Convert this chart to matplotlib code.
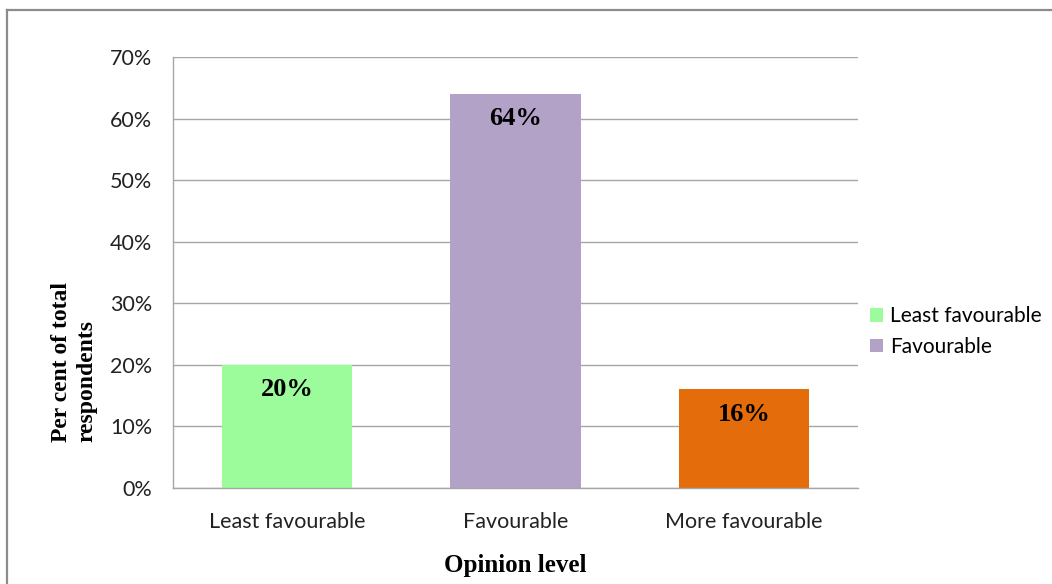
import matplotlib.pyplot as plt
from matplotlib.lines import Line2D

# survey results
categories = ["Least favourable", "Favourable", "More favourable"]
percentages = [20, 64, 16]
bar_colors = ["#9CFB9A", "#B3A2C7", "#E46C0A"]
y_ticks = [0, 10, 20, 30, 40, 50, 60, 70]

W, H = 1052, 584
fig = plt.figure(figsize=(W / 100, H / 100), dpi=100)

# outer frame (only left and top edges fall inside the image)
fig.add_artist(Line2D([7 / W, 7 / W], [0, 1 - 10 / H], transform=fig.transFigure,
                      color="#8C8C8C", lw=1.6))
fig.add_artist(Line2D([7 / W, 1], [1 - 10 / H, 1 - 10 / H], transform=fig.transFigure,
                      color="#8C8C8C", lw=1.6))

ax = fig.add_axes([173 / W, 1 - 488 / H, (858 - 173) / W, (488 - 57) / H])

x = range(len(categories))
bars = ax.bar(x, percentages, width=0.57, color=bar_colors, zorder=2)

ax.set_ylim(0, 70)
ax.set_xlim(-0.5, 2.5)
ax.set_yticks(y_ticks)
ax.set_yticklabels([f"{t}%" for t in y_ticks], fontfamily="Lato", fontsize=15.5, color="#222222")
ax.set_xticks(list(x))
ax.set_xticklabels(categories, fontfamily="Lato", fontsize=15.5, color="#222222")
ax.tick_params(axis="both", length=0)
ax.tick_params(axis="y", pad=15)
ax.tick_params(axis="x", pad=17)

ax.grid(axis="y", color="#A6A6A6", lw=1, zorder=0)
for side in ["top", "right"]:
    ax.spines[side].set_visible(False)
for side in ["left", "bottom"]:
    ax.spines[side].set_color("#A6A6A6")
    ax.spines[side].set_linewidth(1)

# value labels inside the top of each bar
for xi, v in zip(x, percentages):
    ax.text(xi, v - 4.0, f"{v}%", ha="center", va="center",
            fontfamily="Liberation Serif", fontweight="bold", fontsize=19)

ax.set_xlabel("Opinion level", fontfamily="Liberation Serif", fontweight="bold",
              fontsize=18, labelpad=16)
fig.text(74 / W, 1 - 362 / H, "Per cent of total\nrespondents", rotation=90,
         ha="center", va="center", multialignment="left",
         fontfamily="Liberation Serif", fontweight="bold",
         fontsize=17, linespacing=1.3)

leg = fig.legend(handles=[bars[0], bars[1]], labels=categories[:2],
                 loc="upper left", bbox_to_anchor=(862 / W, 1 - 298 / H),
                 frameon=False, prop={"family": "Lato", "size": 15},
                 handlelength=0.6, handleheight=0.6, handletextpad=0.35,
                 labelspacing=0.5, borderaxespad=0)

fig.savefig("out.png", dpi=100)
